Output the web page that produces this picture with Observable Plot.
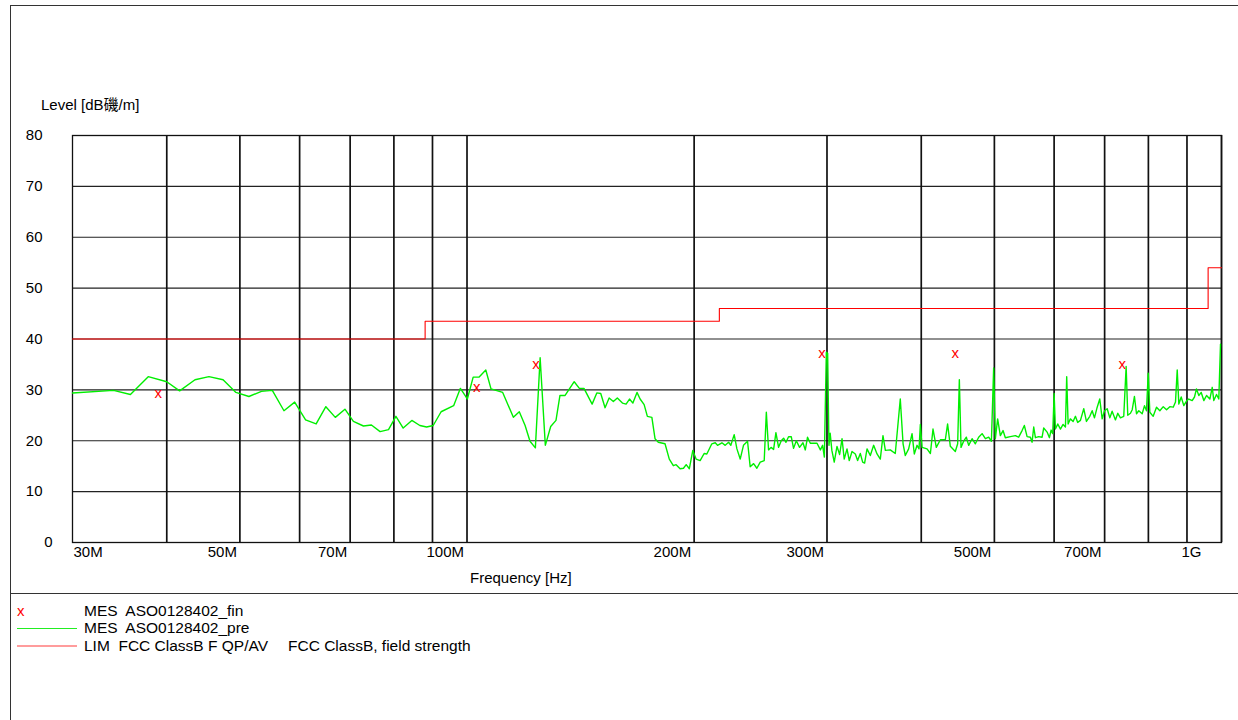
<!DOCTYPE html>
<html><head><meta charset="utf-8">
<script src="https://cdn.jsdelivr.net/npm/d3@7"></script>
<script src="https://cdn.jsdelivr.net/npm/@observablehq/plot@0.6"></script>
<style>
body{margin:0;background:#fff;font-family:"Liberation Sans",Arial,"Noto Sans CJK SC",sans-serif;}
#wrap{position:relative;width:1238px;height:720px;overflow:hidden;background:#fff;}
.hline{position:absolute;height:1px;background:#333;}
.vline{position:absolute;width:1px;background:#333;}
#chart{position:absolute;left:0;top:0;}
.lbl{position:absolute;font-size:15px;line-height:17px;color:#000;white-space:pre;}
.leg{font-size:15.5px;}
.sw{position:absolute;}
</style></head>
<body>
<div id="wrap">
  <div class="hline" style="left:10px;top:5px;width:1240px"></div>
  <div class="vline" style="left:10px;top:5px;height:720px"></div>
  <div class="hline" style="left:10px;top:593px;width:1240px"></div>
  <div id="chart"></div>
  <div class="lbl" style="left:41px;top:96px">Level [dB磯/m]</div>
  <div class="lbl" style="left:470px;top:569px">Frequency [Hz]</div>
  <div class="lbl" id="lx" style="left:17px;top:602px;color:#ff0000">x</div>
  <div class="lbl leg" id="l1" style="left:84px;top:602px"></div>
  <div class="sw" style="left:17px;top:628px;width:60px;height:1px;background:#22ee22"></div>
  <div class="lbl leg" id="l2" style="left:84px;top:619px"></div>
  <div class="sw" style="left:17px;top:645px;width:60px;height:2px;background:#ff9c9c"></div>
  <div class="lbl leg" id="l3" style="left:84px;top:637px"></div>
  <div class="lbl leg" id="l3b" style="left:288px;top:637px"></div>
</div>
<script>
// ---- data ----
const legendTexts = ["MES  ASO0128402_fin", "MES  ASO0128402_pre", "LIM  FCC ClassB F QP/AV", "FCC ClassB, field strength"];

const yTickZero = [0];
const yTicks = [10, 20, 30, 40, 50, 60, 70, 80];
const gridLevels = [10, 20, 30, 40, 50, 60, 70];
const gridFreqs = [40, 50, 60, 70, 80, 90, 100, 200, 300, 400, 500, 600, 700, 800, 900, 1000];
const xTickFirst = [30];
const xTicksMid = [50, 70, 100, 200, 300, 500, 700];
const xTickLast = [1000];
const xTickLabels = {30: "30M", 50: "50M", 70: "70M", 100: "100M", 200: "200M", 300: "300M", 500: "500M", 700: "700M", 1000: "1G"};

// FCC Class B limit (MHz, dBuV/m)
const limitFreq = [30, 88, 216, 960, 1000];
const limitLevel = [40, 43.5, 46, 54, 54];

// final measurements (MHz, dBuV/m)
const finFreq = [38.96, 103.0, 123.4, 295.4, 443.6, 738.5];
const finLevel = [29.3, 30.6, 35.0, 37.2, 37.2, 35.1];

// pre-scan trace (MHz)
const preFreq = [30.0,34.0,35.8,37.8,40.0,41.6,43.6,45.5,47.5,49.4,51.4,53.4,55.2,57.2,59.1,61.1,63.1,65.0,66.9,68.9,70.7,72.9,74.7,76.7,78.7,80.5,82.3,84.5,86.6,88.4,90.2,92.4,96.0,98.0,99.4,
100.1,101.9,103.7,105.9,107.6,111.5,115.2,117.3,119.4,121.2,123.2,125.0,127.0,129.1,131.2,132.8,134.9,138.7,140.9,142.9,146.5,148.6,150.4,152.4,154.3,156.3,158.2,160.7,162.5,164.2,165.9,168.0,
169.6,171.7,173.4,175.8,177.5,179.3,183.0,185.4,187.7,189.3,191.6,193.6,195.2,197.1,199.2,201.2,203.7,206.2,207.9,211.1,213.3,214.8,217.7,219.9,222.2,223.7,226.0,227.9,230.2,232.5,235.4,237.3,239.8,242.2,244.7,247.7,249.3,251.0,252.9,254.9,256.7,258.8,260.9,262.8,264.7,266.8,269.0,270.9,273.2,275.9,278.8,280.8,282.7,285.1,291.0,294.0,296.0,297.6,299.4,300.6,301.8,
302.9,304.5,306.7,309.3,311.8,314.1,316.2,318.9,321.1,323.8,327.1,329.4,332.1,334.5,336.5,339.0,342.4,345.9,349.5,353.0,355.9,358.5,363.9,369.5,375.2,378.4,381.0,384.9,388.9,391.6,394.9,397.3,398.9,401.0,407.1,411.3,414.6,418.8,424.0,430.5,433.5,437.1,443.8,447.0,449.3,451.6,455.2,459.0,462.3,467.1,471.8,476.6,481.6,486.5,491.4,495.5,498.9,501.5,505.0,509.2,513.4,517.0,525.0,533.1,538.5,544.1,547.9,552.5,558.1,
561.0,563.8,566.7,572.4,578.4,581.2,587.3,591.5,594.5,597.5,600.0,602.4,606.7,611.7,616.6,621.1,623.5,626.2,630.5,635.8,640.3,644.8,650.2,656.8,662.2,669.0,673.9,678.6,684.3,689.7,694.8,699.7,705.5,711.2,716.2,723.5,728.7,734.6,742.1,747.5,751.2,757.4,761.5,766.7,771.5,776.9,785.0,790.6,795.4,799.6,803.5,811.8,820.1,828.5,837.1,845.6,854.1,863.0,869.0,873.6,877.9,884.3,891.3,898.7,905.0,914.4,920.9,926.5,933.1,940.0,947.5,955.4,965.1,972.1,976.8,984.9,991.8,997.0];

const preLevel = [29.4,29.9,29.1,32.6,31.6,29.8,32.0,32.6,32.0,29.5,28.7,29.7,29.9,25.9,27.6,24.1,23.3,26.7,24.6,26.2,23.8,22.9,23.1,21.8,22.2,24.8,22.5,24.0,23.0,22.7,23.0,25.7,26.9,30.3,28.9,
28.2,32.5,32.5,33.9,30.2,29.5,24.6,25.7,23.0,19.9,18.6,36.3,19.1,22.8,24.0,28.9,28.9,31.6,30.3,30.3,27.2,29.4,29.3,26.5,28.4,27.7,28.4,27.4,27.2,28.2,27.4,29.5,
28.2,27.1,24.8,24.6,20.4,19.7,19.4,16.4,15.1,15.3,14.5,14.6,15.3,14.5,18.1,16.4,16.1,17.5,17.4,19.4,19.6,19.1,19.6,19.1,19.7,19.1,21.2,18.4,16.4,19.1,19.9,14.9,15.5,14.6,15.8,16.1,25.6,18.2,18.7,18.3,21.6,18.7,20.0,20.5,19.7,20.8,20.8,18.5,20.0,18.7,19.6,18.2,20.7,19.5,19.5,18.2,19.1,16.8,37.4,37.2,19.1,
21.5,18.1,15.8,18.9,17.3,20.4,16.4,18.4,16.1,17.9,17.4,16.1,17.5,15.8,15.6,18.4,17.1,19.1,17.4,16.4,21.0,18.1,18.2,17.5,28.2,19.4,17.1,18.4,21.4,17.4,19.1,18.4,23.2,18.7,18.4,17.5,22.3,18.7,20.2,20.2,23.3,18.9,17.9,19.4,32.0,18.7,19.9,20.7,19.1,20.4,19.4,20.7,21.4,20.4,20.7,19.9,34.3,20.4,24.3,21.0,22.0,20.6,20.8,21.0,20.7,22.0,23.0,20.8,20.7,
19.7,22.7,20.6,20.8,20.7,22.5,21.7,20.6,22.1,21.4,29.3,22.3,23.3,22.3,23.2,22.7,32.6,23.3,24.3,23.8,24.8,23.6,24.0,26.3,23.8,24.8,25.9,24.5,26.6,28.2,24.3,25.9,26.3,24.5,25.8,24.1,25.4,24.5,24.8,34.6,25.0,25.4,26.1,28.7,25.3,25.9,25.3,26.9,25.9,33.3,25.6,24.8,26.6,25.9,26.7,26.1,26.7,26.6,27.6,33.9,27.2,28.6,26.9,27.8,28.2,27.9,28.6,30.2,28.9,29.5,27.9,28.9,28.2,30.5,27.9,29.1,28.2,39.0];

// ---- build ----
const pre = preFreq.map((f, i) => ({f, l: preLevel[i]}));
const lim = limitFreq.map((f, i) => ({f, l: limitLevel[i]}));
const fin = finFreq.map((f, i) => ({f, l: finLevel[i]}));
const fmt = d => xTickLabels[d];

const chart = Plot.plot({
  width: 1238, height: 590,
  marginLeft: 72, marginRight: 17, marginTop: 135, marginBottom: 48,
  style: {fontFamily: "'Liberation Sans', Arial, sans-serif", fontSize: "15px", color: "#000", background: "transparent", overflow: "visible"},
  x: {type: "log", domain: [30, 1000]},
  y: {domain: [0, 80]},
  marks: [
    Plot.ruleY(gridLevels, {stroke: "#222", strokeWidth: 1.2}),
    Plot.ruleX(gridFreqs, {stroke: "#111", strokeWidth: 1.7}),
    Plot.frame({stroke: "#111", strokeWidth: 1.3}),
    Plot.axisY(yTicks, {tickSize: 0, tickPadding: 30, fontSize: 15, label: null}),
    Plot.axisY(yTickZero, {tickSize: 0, tickPadding: 20, fontSize: 15, label: null}),
    Plot.axisX(xTickFirst, {tickSize: 0, tickPadding: 4, tickFormat: fmt, textAnchor: "start", dx: 1, fontSize: 15, label: null}),
    Plot.axisX(xTicksMid, {tickSize: 0, tickPadding: 4, tickFormat: fmt, textAnchor: "end", dx: -3, fontSize: 15, label: null}),
    Plot.axisX(xTickLast, {tickSize: 0, tickPadding: 4, tickFormat: fmt, textAnchor: "end", dx: -20, fontSize: 15, label: null}),
    Plot.line(lim, {x: "f", y: "l", curve: "step-after", stroke: "#ff0000", strokeWidth: 1.1}),
    Plot.line(pre, {x: "f", y: "l", stroke: "#00ee00", strokeWidth: 1.4}),
    Plot.text(fin, {x: "f", y: "l", text: () => "x", fill: "#ff0000", fontSize: 15})
  ]
});
document.getElementById("chart").appendChild(chart);
document.getElementById("l1").textContent = legendTexts[0];
document.getElementById("l2").textContent = legendTexts[1];
document.getElementById("l3").textContent = legendTexts[2];
document.getElementById("l3b").textContent = legendTexts[3];
</script>
</body></html>
